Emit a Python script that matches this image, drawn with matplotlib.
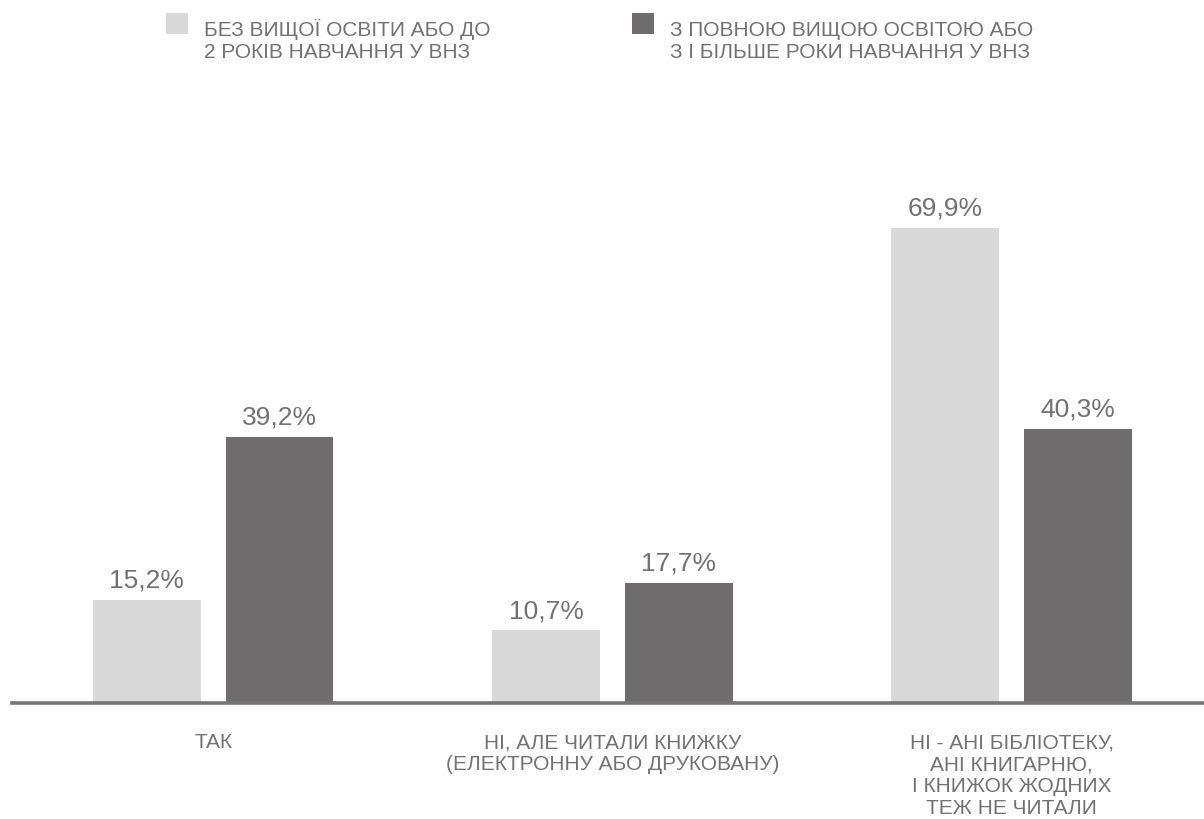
import matplotlib
matplotlib.use("Agg")
import matplotlib.pyplot as plt
from matplotlib.patches import Rectangle
import numpy as np

plt.rcParams['font.family'] = ['Liberation Sans', 'DejaVu Sans']

categories = ["ТАК",
              "НІ, АЛЕ ЧИТАЛИ КНИЖКУ\n(ЕЛЕКТРОННУ АБО ДРУКОВАНУ)",
              "НІ - АНІ БІБЛІОТЕКУ,\nАНІ КНИГАРНЮ,\nІ КНИЖОК ЖОДНИХ\nТЕЖ НЕ ЧИТАЛИ"]
no_higher = [15.2, 10.7, 69.9]
higher = [39.2, 17.7, 40.3]
series_labels = ["БЕЗ ВИЩОЇ ОСВІТИ АБО ДО\n2 РОКІВ НАВЧАННЯ У ВНЗ",
                 "З ПОВНОЮ ВИЩОЮ ОСВІТОЮ АБО\nЗ І БІЛЬШЕ РОКИ НАВЧАННЯ У ВНЗ"]

LIGHT = "#d9d9d9"
DARK = "#6e6c6d"
TXT = "#727272"
AXC = "#747474"

W, H = 1204, 820
fig = plt.figure(figsize=(W / 100, H / 100), dpi=100)
ax_left, ax_right = 12, 1204
ax_base, ax_top = 704, 24.5
ax = fig.add_axes([ax_left / W, 1 - ax_base / H, (ax_right - ax_left) / W, (ax_base - ax_top) / H])

x = np.arange(len(categories))
bw = 0.27
off = 0.166
b1 = ax.bar(x - off, no_higher, bw, color=LIGHT, zorder=2)
b2 = ax.bar(x + off, higher, bw, color=DARK, zorder=2)

for bars, vals in ((b1, no_higher), (b2, higher)):
    for r, v in zip(bars, vals):
        ax.annotate(f"{v:.1f}%".replace(".", ","),
                    (r.get_x() + r.get_width() / 2, v),
                    xytext=(0, 9.5), textcoords="offset points",
                    ha="center", va="baseline", fontsize=19, color=TXT)

ax.set_xlim(-0.504, 2.482)
ax.set_ylim(0, 100)
for s in ("left", "right", "top"):
    ax.spines[s].set_visible(False)
ax.spines["bottom"].set_color(AXC)
ax.spines["bottom"].set_linewidth(2.6)
ax.spines["bottom"].set_zorder(3)
ax.set_yticks([])
ax.set_xticks(x)
ax.set_xticklabels(categories, fontsize=15, color=TXT, linespacing=1.2)
ax.tick_params(axis="x", length=0, pad=21)

# legend
def px(xp, yp):
    return xp / W, 1 - yp / H

legend_items = [(166, 204, LIGHT), (632, 670, DARK)]
for (sqx, tx, col), lab in zip(legend_items, series_labels):
    fig.patches.append(Rectangle(px(sqx, 35), 22 / W, 21 / H, transform=fig.transFigure,
                                 facecolor=col, edgecolor="none"))
    for i, line in enumerate(lab.split("\n")):
        fx, fy = px(tx, 36 + 22 * i)
        fig.text(fx, fy, line, ha="left", va="baseline", fontsize=15, color=TXT)

fig.savefig("out.png", dpi=100)
